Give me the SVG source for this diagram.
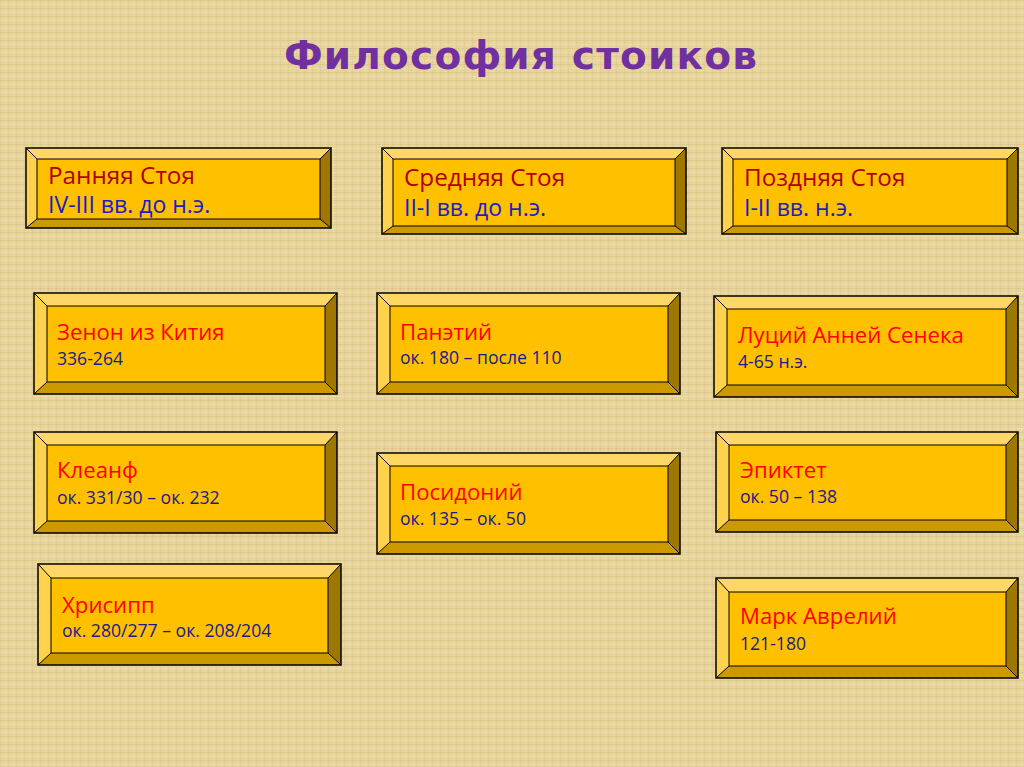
<svg xmlns="http://www.w3.org/2000/svg" width="1024" height="767" viewBox="0 0 1024 767">
<defs>
<pattern id="tex" width="8" height="8" patternUnits="userSpaceOnUse">
<rect width="8" height="8" fill="#E7D49C"/>
<rect x="0" y="0" width="8" height="1" fill="#D9C184" opacity="0.6"/>
<rect x="0" y="4" width="8" height="1" fill="#F1E2B4" opacity="0.6"/>
<rect x="0" y="0" width="1" height="8" fill="#DCC68C" opacity="0.5"/>
<rect x="5" y="0" width="1" height="8" fill="#EFDFAE" opacity="0.5"/>
</pattern>
<style>
.face{fill:#FFC000}
.top{fill:#FFD766}
.left{fill:#FFD24D}
.right{fill:#9E7700}
.bot{fill:#CC9900}
.edge{fill:none;stroke:#000;stroke-width:1.5}
.ln{fill:none;stroke:#000;stroke-width:1}
.t{font-family:"Open Sans","Liberation Sans",sans-serif}
.h1{fill:#B00000;font-size:24.3px}
.h2{fill:#1C1CC8;font-size:23px}
.n1{fill:#FF0000;font-size:22.2px}
.n2{fill:#1A1A8C;font-size:17.6px}
</style>
</defs>
<rect width="1024" height="767" fill="url(#tex)"/>
<text x="521" y="69" text-anchor="middle" font-family="DejaVu Sans, Verdana, sans-serif" font-weight="bold" font-size="39" letter-spacing="1.2" fill="#7030A0">Философия стоиков</text>

<g id="early">
<polygon class="top" points="26,148 331,148 320,159 37,159"/>
<polygon class="left" points="26,148 37,159 37,219 26,228"/>
<polygon class="right" points="331,148 331,228 320,219 320,159"/>
<polygon class="bot" points="26,228 331,228 320,219 37,219"/>
<rect class="face" x="37" y="159" width="283" height="60"/>
<rect class="edge" x="26" y="148" width="305" height="80"/>
<path class="ln" d="M26,148 L37,159 M331,148 L320,159 M26,228 L37,219 M331,228 L320,219"/>
<rect class="ln" x="37" y="159" width="283" height="60"/>
<text class="t h1" x="48" y="184">Ранняя Стоя</text>
<text class="t h2" x="48" y="213">IV-III вв. до н.э.</text>
</g>

<g id="middle">
<polygon class="top" points="382,148 686,148 675,159 393,159"/>
<polygon class="left" points="382,148 393,159 393,226 382,234"/>
<polygon class="right" points="686,148 686,234 675,226 675,159"/>
<polygon class="bot" points="382,234 686,234 675,226 393,226"/>
<rect class="face" x="393" y="159" width="282" height="67"/>
<rect class="edge" x="382" y="148" width="304" height="86"/>
<path class="ln" d="M382,148 L393,159 M686,148 L675,159 M382,234 L393,226 M686,234 L675,226"/>
<rect class="ln" x="393" y="159" width="282" height="67"/>
<text class="t h1" x="404" y="186">Средняя Стоя</text>
<text class="t h2" x="404" y="216">II-I вв. до н.э.</text>
</g>

<g id="late">
<polygon class="top" points="722,148 1018,148 1007,159 733,159"/>
<polygon class="left" points="722,148 733,159 733,226 722,234"/>
<polygon class="right" points="1018,148 1018,234 1007,226 1007,159"/>
<polygon class="bot" points="722,234 1018,234 1007,226 733,226"/>
<rect class="face" x="733" y="159" width="274" height="67"/>
<rect class="edge" x="722" y="148" width="296" height="86"/>
<path class="ln" d="M722,148 L733,159 M1018,148 L1007,159 M722,234 L733,226 M1018,234 L1007,226"/>
<rect class="ln" x="733" y="159" width="274" height="67"/>
<text class="t h1" x="744" y="186">Поздняя Стоя</text>
<text class="t h2" x="744" y="216">I-II вв. н.э.</text>
</g>

<g id="zeno">
<polygon class="top" points="34,293 337,293 325,306 47,306"/>
<polygon class="left" points="34,293 47,306 47,382 34,394"/>
<polygon class="right" points="337,293 337,394 325,382 325,306"/>
<polygon class="bot" points="34,394 337,394 325,382 47,382"/>
<rect class="face" x="47" y="306" width="278" height="76"/>
<rect class="edge" x="34" y="293" width="303" height="101"/>
<path class="ln" d="M34,293 L47,306 M337,293 L325,306 M34,394 L47,382 M337,394 L325,382"/>
<rect class="ln" x="47" y="306" width="278" height="76"/>
<text class="t n1" x="57" y="340">Зенон из Кития</text>
<text class="t n2" x="57" y="365">336-264</text>
</g>

<g id="panaetius">
<polygon class="top" points="377,293 680,293 668,306 390,306"/>
<polygon class="left" points="377,293 390,306 390,382 377,394"/>
<polygon class="right" points="680,293 680,394 668,382 668,306"/>
<polygon class="bot" points="377,394 680,394 668,382 390,382"/>
<rect class="face" x="390" y="306" width="278" height="76"/>
<rect class="edge" x="377" y="293" width="303" height="101"/>
<path class="ln" d="M377,293 L390,306 M680,293 L668,306 M377,394 L390,382 M680,394 L668,382"/>
<rect class="ln" x="390" y="306" width="278" height="76"/>
<text class="t n1" x="400" y="340">Панэтий</text>
<text class="t n2" x="400" y="364">ок. 180 – после 110</text>
</g>

<g id="seneca">
<polygon class="top" points="714,296 1018,296 1006,309 727,309"/>
<polygon class="left" points="714,296 727,309 727,385 714,397"/>
<polygon class="right" points="1018,296 1018,397 1006,385 1006,309"/>
<polygon class="bot" points="714,397 1018,397 1006,385 727,385"/>
<rect class="face" x="727" y="309" width="279" height="76"/>
<rect class="edge" x="714" y="296" width="304" height="101"/>
<path class="ln" d="M714,296 L727,309 M1018,296 L1006,309 M714,397 L727,385 M1018,397 L1006,385"/>
<rect class="ln" x="727" y="309" width="279" height="76"/>
<text class="t n1" x="738" y="343">Луций Анней Сенека</text>
<text class="t n2" x="738" y="368">4-65 н.э.</text>
</g>

<g id="cleanthes">
<polygon class="top" points="34,432 337,432 325,445 47,445"/>
<polygon class="left" points="34,432 47,445 47,521 34,533"/>
<polygon class="right" points="337,432 337,533 325,521 325,445"/>
<polygon class="bot" points="34,533 337,533 325,521 47,521"/>
<rect class="face" x="47" y="445" width="278" height="76"/>
<rect class="edge" x="34" y="432" width="303" height="101"/>
<path class="ln" d="M34,432 L47,445 M337,432 L325,445 M34,533 L47,521 M337,533 L325,521"/>
<rect class="ln" x="47" y="445" width="278" height="76"/>
<text class="t n1" x="57" y="478">Клеанф</text>
<text class="t n2" x="57" y="504">ок. 331/30 – ок. 232</text>
</g>

<g id="posidonius">
<polygon class="top" points="377,453 680,453 668,466 390,466"/>
<polygon class="left" points="377,453 390,466 390,542 377,554"/>
<polygon class="right" points="680,453 680,554 668,542 668,466"/>
<polygon class="bot" points="377,554 680,554 668,542 390,542"/>
<rect class="face" x="390" y="466" width="278" height="76"/>
<rect class="edge" x="377" y="453" width="303" height="101"/>
<path class="ln" d="M377,453 L390,466 M680,453 L668,466 M377,554 L390,542 M680,554 L668,542"/>
<rect class="ln" x="390" y="466" width="278" height="76"/>
<text class="t n1" x="400" y="500">Посидоний</text>
<text class="t n2" x="400" y="525">ок. 135 – ок. 50</text>
</g>

<g id="epictetus">
<polygon class="top" points="716,432 1018,432 1006,445 729,445"/>
<polygon class="left" points="716,432 729,445 729,520 716,532"/>
<polygon class="right" points="1018,432 1018,532 1006,520 1006,445"/>
<polygon class="bot" points="716,532 1018,532 1006,520 729,520"/>
<rect class="face" x="729" y="445" width="277" height="75"/>
<rect class="edge" x="716" y="432" width="302" height="100"/>
<path class="ln" d="M716,432 L729,445 M1018,432 L1006,445 M716,532 L729,520 M1018,532 L1006,520"/>
<rect class="ln" x="729" y="445" width="277" height="75"/>
<text class="t n1" x="740" y="478">Эпиктет</text>
<text class="t n2" x="740" y="503">ок. 50 – 138</text>
</g>

<g id="chrysippus">
<polygon class="top" points="38,564 341,564 328,578 51,578"/>
<polygon class="left" points="38,564 51,578 51,653 38,665"/>
<polygon class="right" points="341,564 341,665 328,653 328,578"/>
<polygon class="bot" points="38,665 341,665 328,653 51,653"/>
<rect class="face" x="51" y="578" width="277" height="75"/>
<rect class="edge" x="38" y="564" width="303" height="101"/>
<path class="ln" d="M38,564 L51,578 M341,564 L328,578 M38,665 L51,653 M341,665 L328,653"/>
<rect class="ln" x="51" y="578" width="277" height="75"/>
<text class="t n1" x="62" y="613">Хрисипп</text>
<text class="t n2" x="62" y="637">ок. 280/277 – ок. 208/204</text>
</g>

<g id="aurelius">
<polygon class="top" points="716,578 1018,578 1006,592 729,592"/>
<polygon class="left" points="716,578 729,592 729,666 716,678"/>
<polygon class="right" points="1018,578 1018,678 1006,666 1006,592"/>
<polygon class="bot" points="716,678 1018,678 1006,666 729,666"/>
<rect class="face" x="729" y="592" width="277" height="74"/>
<rect class="edge" x="716" y="578" width="302" height="100"/>
<path class="ln" d="M716,578 L729,592 M1018,578 L1006,592 M716,678 L729,666 M1018,678 L1006,666"/>
<rect class="ln" x="729" y="592" width="277" height="74"/>
<text class="t n1" x="740" y="624">Марк Аврелий</text>
<text class="t n2" x="740" y="650">121-180</text>
</g>

<g id="connectors"/>
</svg>
